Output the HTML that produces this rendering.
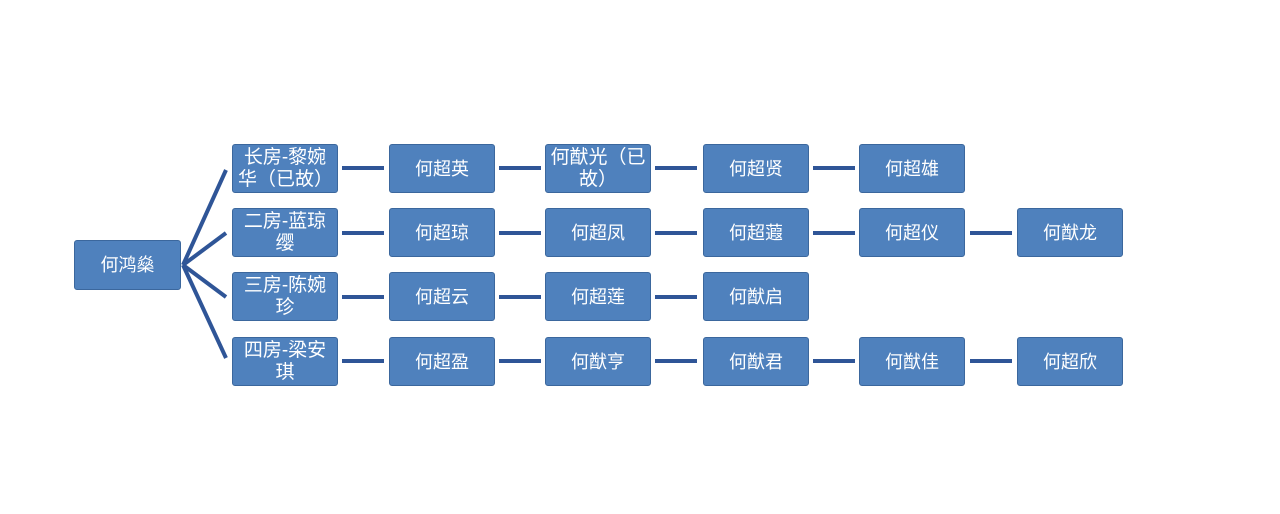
<!DOCTYPE html>
<html><head><meta charset="utf-8"><style>
body{margin:0;width:1280px;height:514px;background:#fff;position:relative;overflow:hidden;font-family:"Liberation Sans","Noto Sans CJK SC",sans-serif}
.b{position:absolute;width:106px;height:49px;background:#4f81bd;border:1px solid #3b679d;box-sizing:border-box;border-radius:3px;color:#fff;font-size:18px;line-height:22px;display:flex;align-items:center;justify-content:center;text-align:center;padding:0 4px}
.s{font-size:19px;padding:0 5px;line-height:22px}
.l{position:absolute;height:4px;background:#2f5597}
</style></head><body>
<svg style="position:absolute;left:0;top:0" width="1280" height="514"><g stroke="#2f5597" stroke-width="4" fill="none">
<line x1="183" y1="265" x2="226" y2="170"/><line x1="183" y1="265" x2="226" y2="233"/><line x1="183" y1="265" x2="226" y2="297"/><line x1="183" y1="265" x2="226" y2="358"/></g></svg>
<div class="b" style="left:74px;top:240px;width:107px;height:50px">何鸿燊</div>
<div class="b s" style="left:232px;top:144px">长房-黎婉华（已故）</div>
<div class="b s" style="left:232px;top:208px">二房-蓝琼缨</div>
<div class="b s" style="left:232px;top:272px">三房-陈婉珍</div>
<div class="b s" style="left:232px;top:337px">四房-梁安琪</div>

<div class="l" style="left:342px;top:166px;width:42px"></div>
<div class="l" style="left:342px;top:231px;width:42px"></div>
<div class="l" style="left:342px;top:295px;width:42px"></div>
<div class="l" style="left:342px;top:359px;width:42px"></div>
<div class="l" style="left:499px;top:166px;width:42px"></div>
<div class="l" style="left:499px;top:231px;width:42px"></div>
<div class="l" style="left:499px;top:295px;width:42px"></div>
<div class="l" style="left:499px;top:359px;width:42px"></div>
<div class="l" style="left:655px;top:166px;width:42px"></div>
<div class="l" style="left:655px;top:231px;width:42px"></div>
<div class="l" style="left:655px;top:295px;width:42px"></div>
<div class="l" style="left:655px;top:359px;width:42px"></div>
<div class="l" style="left:813px;top:166px;width:42px"></div>
<div class="l" style="left:813px;top:231px;width:42px"></div>
<div class="l" style="left:813px;top:359px;width:42px"></div>
<div class="l" style="left:970px;top:231px;width:42px"></div>
<div class="l" style="left:970px;top:359px;width:42px"></div>

<div class="b" style="left:389px;top:144px">何超英</div>
<div class="b s" style="left:545px;top:144px;padding:0 1px">何猷光（已故）</div>
<div class="b" style="left:703px;top:144px">何超贤</div>
<div class="b" style="left:859px;top:144px">何超雄</div>

<div class="b" style="left:389px;top:208px">何超琼</div>
<div class="b" style="left:545px;top:208px">何超凤</div>
<div class="b" style="left:703px;top:208px">何超蕸</div>
<div class="b" style="left:859px;top:208px">何超仪</div>
<div class="b" style="left:1017px;top:208px">何猷龙</div>

<div class="b" style="left:389px;top:272px">何超云</div>
<div class="b" style="left:545px;top:272px">何超莲</div>
<div class="b" style="left:703px;top:272px">何猷启</div>

<div class="b" style="left:389px;top:337px">何超盈</div>
<div class="b" style="left:545px;top:337px">何猷亨</div>
<div class="b" style="left:703px;top:337px">何猷君</div>
<div class="b" style="left:859px;top:337px">何猷佳</div>
<div class="b" style="left:1017px;top:337px">何超欣</div>
</body></html>
